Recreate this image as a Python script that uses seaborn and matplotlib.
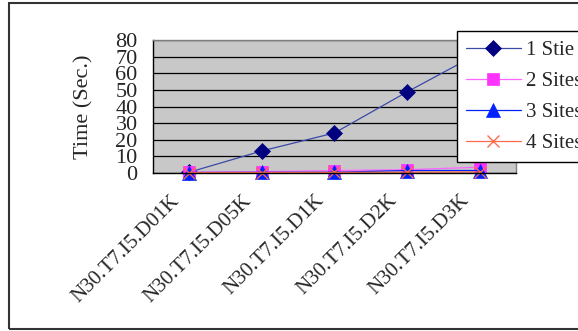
import matplotlib
matplotlib.use("Agg")
import matplotlib.pyplot as plt
import matplotlib.transforms as mtransforms
import seaborn as sns
import pandas as pd
from matplotlib.patches import Rectangle

# Data
datasets = ['N30.T7.I5.D01K', 'N30.T7.I5.D05K', 'N30.T7.I5.D1K', 'N30.T7.I5.D2K', 'N30.T7.I5.D3K']
site1 = [0.5, 13.3, 24.1, 48.8, 72.3]
site2 = [0.5, 0.8, 1.5, 2.0, 3.5]
site3 = [0.3, 0.4, 0.5, 1.5, 1.5]
site4 = [0.2, 0.3, 0.4, 0.5, 0.6]
series_names = ['1 Stie', '2 Sites', '3 Sites', '4 Sites']
y_ticks = [0, 10, 20, 30, 40, 50, 60, 70, 80]

df = pd.DataFrame({
    'dataset': datasets * 4,
    'time': site1 + site2 + site3 + site4,
    'series': [s for s in series_names for _ in datasets],
})

sns.set_style("white")
plt.rcParams['font.family'] = ['Liberation Serif', 'DejaVu Serif']
FS = 16

fig = plt.figure(figsize=(5.78, 3.31), dpi=100)
ax = fig.add_axes([0.2647, 0.4773, 0.628, 0.4017])
ax.set_facecolor('#c8c8c8')

styles = {
    '1 Stie': dict(color='#3a4aa8', marker='D', mfc='#000080', mec='#000080', ms=8.5),
    '2 Sites': dict(color='#ff66ff', marker='s', mfc='#ff33ff', mec='#ff33ff', ms=8.5),
    '3 Sites': dict(color='#0022ff', marker='^', mfc='#0022ff', mec='#0022ff', ms=9.5),
    '4 Sites': dict(color='#ff6a4a', marker='x', mfc='#ff6a4a', mec='#ff6a4a', ms=9, mew=1),
}

for name in series_names:
    st = styles[name]
    sub = df[df['series'] == name]
    sns.lineplot(data=sub, x='dataset', y='time', ax=ax, label=name,
                 color=st['color'], marker=st['marker'], markersize=st['ms'],
                 markerfacecolor=st['mfc'], markeredgecolor=st['mec'],
                 markeredgewidth=st.get('mew', 0.5), linewidth=0.9, sort=False,
                 clip_on=False)

ax.set_xlim(-0.5, len(datasets) - 0.5)
ax.set_ylim(0, 80)
ax.set_yticks(y_ticks)
ax.set_yticklabels([str(v) for v in y_ticks], fontsize=FS)
ax.yaxis.grid(True, color='black', linewidth=0.9)
ax.set_axisbelow(True)

ax.set_xticks(range(len(datasets)))
ax.set_xticklabels(datasets, fontsize=15, rotation=45, ha='right',
                   va='center', rotation_mode='anchor')
ax.set_xticks([i + 0.5 for i in range(len(datasets) - 1)], minor=True)
ax.tick_params(axis='x', which='major', length=0, pad=18)
ax.tick_params(axis='x', which='minor', direction='in', length=4, color='black', width=0.8)
ax.tick_params(axis='y', length=0, pad=11)

# shift rotated labels left (after tick_params, which resets transforms)
shift = mtransforms.ScaledTranslation(-13 / 100, 0, fig.dpi_scale_trans)
for lbl in ax.get_xticklabels():
    lbl.set_transform(lbl.get_transform() + shift)

ax.set_xlabel('')
ax.set_ylabel('Time (Sec.)', fontsize=FS, labelpad=16)

for side in ['left', 'bottom']:
    ax.spines[side].set_color('black')
    ax.spines[side].set_linewidth(1.0)
for side in ['top', 'right']:
    ax.spines[side].set_color('#808080')
    ax.spines[side].set_linewidth(1.0)

leg = ax.legend(loc='upper left', bbox_to_anchor=(0.7907, 0.9063),
                bbox_transform=fig.transFigure, fontsize=15, frameon=True,
                fancybox=False, edgecolor='black', framealpha=1,
                handlelength=2.6, labelspacing=0.55, borderpad=0.45,
                handletextpad=0.25, borderaxespad=0)
leg.get_frame().set_linewidth(1.0)
leg.set_zorder(10)

fig.patches.append(Rectangle((9 / 578, 2 / 331), 1.2, 326 / 331,
                             transform=fig.transFigure, fill=False,
                             edgecolor='#333333', linewidth=1.5))

fig.savefig('out.png', dpi=100)
